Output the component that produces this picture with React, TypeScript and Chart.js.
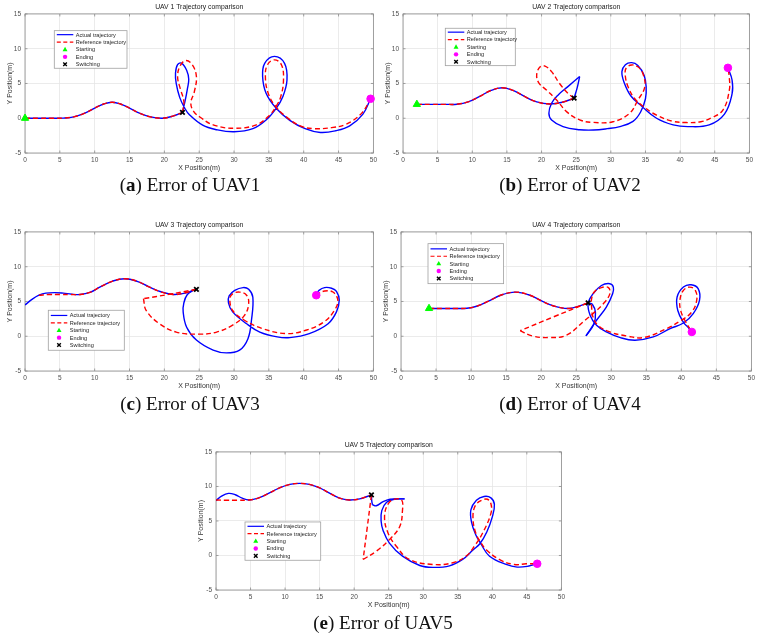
import React, { useEffect, useRef } from "react";
import { Chart, registerables } from "chart.js";

Chart.register(...registerables);

type Pt = [number, number];

// ---- shared axis ticks and legend text ----
const xTickValues = [0, 5, 10, 15, 20, 25, 30, 35, 40, 45, 50];
const yTickValues = [-5, 0, 5, 10, 15];
const legendLabels = ["Actual trajectory", "Reference trajectory", "Starting", "Ending", "Switching"];

// ---- UAV 1 ----
const uav1Lead: Pt[] = [[0, 0], [2, 0], [4, 0], [5.5, 0.02], [7, 0.2], [8.5, 0.7], [10, 1.45], [11.3, 2.05], [12.5, 2.3], [13.7, 2.05], [15, 1.45], [16.5, 0.7], [18, 0.2], [19.7, 0], [21.2, 0.3], [22.6, 0.85]];
const uav1ActualLoop: Pt[] = [[22.6, 0.85], [23.0, 2.6], [23.3, 4.2], [23.5, 5.6], [23.2, 6.9], [22.5, 7.9], [21.9, 7.7], [21.6, 6.5], [21.7, 5.0], [22.2, 3.0], [22.9, 1.5], [23.6, 0.5], [25.5, -1.0], [27.5, -1.65], [30, -1.95], [32.7, -1.5], [34.6, -0.25], [36.05, 1.43], [37.0, 3.1], [37.6, 5.5], [37.25, 7.9], [35.8, 8.9], [34.4, 7.9], [34.1, 6.0], [34.6, 3.6], [36.05, 1.43], [38.0, -0.3], [40.2, -1.5], [42.4, -2.05], [44.6, -1.8], [46.6, -1.1], [48.5, 0.6], [49.6, 2.8]];
const uav1RefLoop: Pt[] = [[22.6, 0.85], [22.8, 2.4], [22.3, 4.2], [21.9, 6.0], [22.3, 7.6], [23.1, 8.3], [24.0, 7.7], [24.6, 6.0], [24.3, 3.8], [23.8, 2.2], [24.2, 1.0], [25.2, 0.1], [27, -0.95], [30, -1.45], [33.2, -0.95], [35.1, 0.45], [36, 1.65], [36.7, 3.1], [37.1, 5.5], [36.8, 7.7], [35.8, 8.4], [34.8, 7.7], [34.5, 6.0], [34.9, 3.6], [36, 1.65], [37.5, 0.2], [39.5, -1.1], [41.5, -1.5], [44, -1.35], [46.1, -0.85], [48.3, 0.7], [49.6, 2.8]];
const uav1Start: Pt = [0, 0];
const uav1End: Pt = [49.6, 2.8];
const uav1Switch: Pt = [22.6, 0.85];

// ---- UAV 2 ----
const uav2Lead: Pt[] = [[2, 2], [4, 2], [6, 2], [7.8, 2.02], [9.4, 2.35], [11, 3.1], [12.7, 4.0], [14.3, 4.38], [15.9, 4.0], [17.6, 3.1], [19.3, 2.35], [21.2, 2.05], [23, 2.3], [24.7, 2.9]];
const uav2ActualRise: Pt[] = [[24.7, 2.9], [25.15, 4.4], [25.5, 6.0]];
const uav2ActualLoop: Pt[] = [[25.5, 6.0], [23.8, 4.55], [22.4, 3.35], [21.45, 2.16], [21.06, 0.72], [21.45, -0.24], [23.1, -1.2], [25.5, -1.65], [27.5, -1.7], [29.5, -1.5], [31.3, -1.2], [33.2, -0.45], [34.3, 0.9], [35.0, 2.8], [35.1, 4.5], [34.8, 6.2], [33.9, 7.6], [33.0, 8.0], [32.1, 7.7], [31.6, 6.7], [31.9, 5.2], [32.9, 3.2], [34.5, 1.7], [36.6, 0], [39, -0.95], [41.1, -1.2], [44.2, -0.95], [46.4, 0.6], [47.5, 3.5], [47.5, 5.5], [46.9, 7.25]];
const uav2RefLoop: Pt[] = [[24.7, 2.9], [23.8, 3.6], [22.6, 5.0], [21.45, 6.7], [20.5, 7.5], [19.8, 7.4], [19.3, 6.3], [19.6, 5.1], [20.7, 4.07], [22.2, 2.6], [23.6, 0.95], [25.5, -0.24], [27.5, -0.6], [30.3, -0.5], [32.7, 0.7], [33.9, 2.6], [34.9, 4.5], [34.6, 6.5], [33.9, 7.4], [33, 7.66], [32.2, 7.2], [32.1, 6.0], [32.5, 4.5], [33.4, 2.87], [34.6, 1.77], [36.6, 0.45], [38.8, -0.4], [40.9, -0.62], [43, -0.5], [44.6, 0.1], [46.2, 1.2], [47.1, 4.0], [47.1, 5.9], [46.9, 7.25]];
const uav2Start: Pt = [2, 2];
const uav2End: Pt = [46.9, 7.25];
const uav2Switch: Pt = [24.7, 2.9];

// ---- UAV 3 ----
const uav3ActualLead: Pt[] = [[0, 4.5], [1, 5.3], [2, 5.9], [3, 6.2], [4.3, 6.28], [5.5, 6.2], [6.7, 6.05], [7.9, 6.0], [9.3, 6.3], [10.8, 7.1], [12.5, 7.9], [14.3, 8.28], [16.1, 7.9], [17.8, 7.1], [19.5, 6.4], [21.3, 6.0], [23.0, 6.2], [24.3, 6.7]];
const uav3ActualLoop: Pt[] = [[24.3, 6.7], [23.3, 6.0], [22.8, 4.8], [22.7, 3.5], [23.2, 1.3], [24.6, -0.55], [27, -2.0], [28.9, -2.4], [30.8, -2.0], [32, -0.35], [32.5, 2.3], [32.7, 5.6], [32.1, 6.75], [31.3, 7.0], [30.1, 6.6], [29.3, 5.8], [29.2, 4.8], [29.8, 3.5], [31.8, 1.8], [33.7, 0.6], [36.2, -0.1], [38, -0.2], [40.8, 0.38], [43.5, 1.8], [44.7, 3.5], [45.1, 5.2], [44.7, 6.45], [44.0, 6.9], [43, 7.0], [42.2, 6.6], [41.8, 6.0]];
const uav3RefLead: Pt[] = [[2, 5.9], [3.5, 6.0], [5, 6.0], [6.5, 6.0], [7.9, 6.0], [9.3, 6.3], [10.8, 7.1], [12.5, 7.9], [14.3, 8.28], [16.1, 7.9], [17.8, 7.1], [19.5, 6.4], [21.3, 6.0], [23.0, 6.25], [24.6, 6.75]];
const uav3RefJump: Pt[] = [[24.6, 6.75], [20.8, 6.05], [17, 5.4]];
const uav3RefLoop: Pt[] = [[17, 5.4], [17.4, 3.7], [19.3, 1.8], [21.7, 0.6], [25.1, 0.3], [27.5, 0.6], [29.8, 1.6], [31.5, 3.0], [32.1, 4.7], [31.8, 5.9], [30.8, 6.35], [29.8, 6.1], [29.4, 5.4], [29.8, 3.7], [31.5, 2.3], [34.1, 1.1], [37.5, 0.38], [40.3, 0.86], [42.9, 2.06], [44.4, 3.7], [44.9, 5.17], [44.2, 6.36], [43, 6.5], [42, 6.1]];
const uav3End: Pt = [41.8, 5.9];
const uav3Switch: Pt = [24.6, 6.75];

// ---- UAV 4 ----
const uav4Lead: Pt[] = [[4, 4], [6, 4], [8, 4], [9.4, 4.02], [10.9, 4.35], [12.4, 5.0], [14.2, 5.9], [16.3, 6.35], [18.4, 5.9], [20.2, 5.0], [21.8, 4.35], [23.8, 4.0], [25.3, 4.3], [26.7, 4.8]];
const uav4ActualHook: Pt[] = [[26.7, 4.8], [27.3, 4.6], [27.75, 3.4], [27.5, 1.7], [26.4, 0.05]];
const uav4ActualLoop: Pt[] = [[26.4, 0.05], [27.9, 2.3], [29.3, 4.2], [30.2, 6.1], [30.3, 7.07], [29.8, 7.56], [28.6, 7.3], [27.4, 6.1], [26.7, 4.7], [27.0, 3.0], [27.9, 1.58], [29.3, 0.62], [31.3, -0.2], [33.4, -0.57], [36, -0.1], [38.4, 1.1], [40.3, 1.9], [41.7, 3.25], [42.6, 5.2], [42.4, 6.84], [41.4, 7.4], [40.3, 7.07], [39.4, 5.64], [39.5, 3.7], [40.3, 2.0], [41.0, 1.25], [41.5, 0.62]];
const uav4RefJump: Pt[] = [[26.7, 4.8], [21.8, 2.8], [17, 0.8]];
const uav4RefLoop: Pt[] = [[17, 0.8], [18.7, 0.05], [21.0, -0.19], [23.6, 0.14], [26.25, 2.3], [27.4, 3.25], [28.9, 4.7], [29.8, 6.1], [29.6, 7.0], [28.6, 7.0], [27.6, 6.4], [27.2, 5.4], [27.2, 4.2], [27.4, 2.77], [28.1, 1.58], [29.8, 0.62], [32.2, 0.04], [34.6, -0.19], [37.9, 1.1], [40, 2.3], [41.5, 3.5], [42.2, 5.2], [42, 6.6], [41.2, 7.07], [40.3, 6.6], [39.8, 5.2], [39.9, 3.73], [40.5, 2.3], [41.5, 0.62]];
const uav4Start: Pt = [4, 4];
const uav4End: Pt = [41.5, 0.62];
const uav4Switch: Pt = [26.7, 4.8];

// ---- UAV 5 ----
const uav5ActualLead: Pt[] = [[0, 7.95], [0.8, 8.6], [1.8, 9.0], [2.8, 8.8], [3.8, 8.3], [4.8, 8.05], [6.1, 8.3], [7.6, 9.0], [9.2, 9.8], [10.7, 10.3], [12.1, 10.45], [13.5, 10.3], [15.0, 9.8], [16.5, 9.0], [17.9, 8.3], [19.3, 8.05], [20.8, 8.2], [22.5, 8.77]];
const uav5ActualDrop: Pt[] = [[22.5, 8.77], [22.55, 7.9], [22.65, 7.35]];
const uav5ActualStep: Pt[] = [[22.65, 7.35], [23.2, 7.2], [24.2, 7.8], [25.2, 8.15], [26.3, 8.2], [27.3, 8.2]];
const uav5ActualLoop: Pt[] = [[27.3, 8.2], [25.8, 8.15], [24.7, 7.7], [24.0, 6.5], [23.9, 5.0], [24.2, 3.6], [25.1, 1.8], [27, -0.1], [29.5, -1.45], [31.4, -1.72], [33.8, -1.5], [35.7, -0.57], [37.2, 0.8], [38.2, 1.7], [39.2, 3.4], [40, 5.6], [40.3, 7.4], [39.8, 8.35], [38.8, 8.55], [37.7, 8.0], [36.9, 6.6], [37.0, 4.8], [37.6, 3.0], [38.4, 1.6], [39.6, -0.1], [42, -1.3], [43.6, -1.68], [45.3, -1.53], [46.5, -1.2]];
const uav5RefLead: Pt[] = [[0, 8.05], [1.5, 8.0], [3, 8.0], [4.8, 8.05], [6.1, 8.3], [7.6, 9.0], [9.2, 9.8], [10.7, 10.3], [12.1, 10.45], [13.5, 10.3], [15.0, 9.8], [16.5, 9.0], [17.9, 8.3], [19.3, 8.05], [20.8, 8.2], [22.5, 8.77]];
const uav5RefJump: Pt[] = [[22.5, 8.77], [21.9, 4.1], [21.3, -0.57]];
const uav5RefLoop: Pt[] = [[21.3, -0.57], [23.2, 0.62], [25.1, 2.3], [26.6, 4.2], [27.0, 6.6], [26.9, 8.0], [26.1, 8.2], [25.0, 7.6], [24.4, 5.65], [24.9, 3.26], [26.1, 1.34], [28, -0.57], [31.4, -1.3], [34.3, -1.05], [36.2, -0.1], [37.4, 1.34], [38.6, 3.26], [39.8, 6.1], [39.8, 7.5], [39.3, 8.15], [38.6, 8.05], [37.6, 7.33], [37.2, 5.65], [37.6, 3.26], [38.4, 1.8], [39.1, 0.86], [41, -0.57], [43.2, -1.3], [44.9, -1.2], [46.5, -1.2]];
const uav5End: Pt = [46.5, -1.2];
const uav5Switch: Pt = [22.5, 8.77];

// ---- styles ----
const SANS = "'Liberation Sans', Arial, Helvetica, sans-serif";
const SERIF = "'Liberation Serif', 'Times New Roman', serif";
const ACTUAL_COLOR = "#0000ff";
const REF_COLOR = "#ff0000";
const START_COLOR = "#00ff00";
const END_COLOR = "#ff00ff";
const AXIS_W = 25;
const RIGHT_PAD = 6;
const TITLE_H = 14;
const XAXIS_H = 22;

type Box = { x: number; y: number; w: number; h: number };
type PanelSpec = {
  title: string;
  plot: { left: number; top: number; right: number; bottom: number };
  actual: Pt[][];
  reference: Pt[][];
  start: Pt | null;
  end: Pt;
  switching: Pt;
  legend: Box;
};

const panels: PanelSpec[] = [
  {
    title: "UAV 1 Trajectory comparison",
    plot: { left: 25, top: 14, right: 374, bottom: 153 },
    actual: [uav1Lead, uav1ActualLoop],
    reference: [uav1Lead, uav1RefLoop],
    start: uav1Start, end: uav1End, switching: uav1Switch,
    legend: { x: 29.3, y: 16.7, w: 72.7, h: 37.6 },
  },
  {
    title: "UAV 2 Trajectory comparison",
    plot: { left: 402.7, top: 14, right: 750, bottom: 153.3 },
    actual: [uav2Lead, uav2ActualRise, uav2ActualLoop],
    reference: [uav2Lead, uav2RefLoop],
    start: uav2Start, end: uav2End, switching: uav2Switch,
    legend: { x: 42.3, y: 14.3, w: 70, h: 37.4 },
  },
  {
    title: "UAV 3 Trajectory comparison",
    plot: { left: 25, top: 231.7, right: 374, bottom: 371 },
    actual: [uav3ActualLead, uav3ActualLoop],
    reference: [uav3RefLead, uav3RefJump, uav3RefLoop],
    start: null, end: uav3End, switching: uav3Switch,
    legend: { x: 23.3, y: 78.3, w: 76, h: 40 },
  },
  {
    title: "UAV 4 Trajectory comparison",
    plot: { left: 400.7, top: 231.6, right: 751.7, bottom: 371 },
    actual: [uav4Lead, uav4ActualHook, uav4ActualLoop],
    reference: [uav4Lead, uav4RefJump, uav4RefLoop],
    start: uav4Start, end: uav4End, switching: uav4Switch,
    legend: { x: 27, y: 11.7, w: 75.6, h: 40 },
  },
  {
    title: "UAV 5 Trajectory comparison",
    plot: { left: 216, top: 451.7, right: 562, bottom: 590 },
    actual: [uav5ActualLead, uav5ActualDrop, uav5ActualStep, uav5ActualLoop],
    reference: [uav5RefLead, uav5RefJump, uav5RefLoop],
    start: null, end: uav5End, switching: uav5Switch,
    legend: { x: 29, y: 70, w: 75.7, h: 38.3 },
  },
];

const captions = [
  { letter: "a", text: " Error of UAV1", cx: 190, cy: 185 },
  { letter: "b", text: " Error of UAV2", cx: 570, cy: 185 },
  { letter: "c", text: " Error of UAV3", cx: 190, cy: 404 },
  { letter: "d", text: " Error of UAV4", cx: 570, cy: 404 },
  { letter: "e", text: " Error of UAV5", cx: 383, cy: 623 },
];

// plot frame with inward tick marks on all four sides
const framePlugin = {
  id: "frame",
  beforeDatasetsDraw(chart: any) {
    const { ctx, chartArea: a, scales } = chart;
    ctx.save();
    ctx.strokeStyle = "#8c8c8c";
    ctx.lineWidth = 0.8;
    ctx.strokeRect(a.left, a.top, a.right - a.left, a.bottom - a.top);
    const t = 2.5;
    ctx.beginPath();
    for (const v of xTickValues) {
      const px = scales.x.getPixelForValue(v);
      ctx.moveTo(px, a.bottom); ctx.lineTo(px, a.bottom - t);
      ctx.moveTo(px, a.top); ctx.lineTo(px, a.top + t);
    }
    for (const v of yTickValues) {
      const py = scales.y.getPixelForValue(v);
      ctx.moveTo(a.left, py); ctx.lineTo(a.left + t, py);
      ctx.moveTo(a.right, py); ctx.lineTo(a.right - t, py);
    }
    ctx.stroke();
    ctx.restore();
  },
};

function drawTriangle(ctx: CanvasRenderingContext2D, x: number, y: number, r: number) {
  ctx.beginPath();
  ctx.moveTo(x, y - r);
  ctx.lineTo(x + r * 0.95, y + r * 0.65);
  ctx.lineTo(x - r * 0.95, y + r * 0.65);
  ctx.closePath();
  ctx.fill();
}

function makeLegendPlugin(box: Box) {
  return {
    id: "trajLegend",
    afterDatasetsDraw(chart: any) {
      const { ctx, chartArea } = chart;
      const x0 = chartArea.left + box.x;
      const y0 = chartArea.top + box.y;
      ctx.save();
      ctx.fillStyle = "#ffffff";
      ctx.fillRect(x0, y0, box.w, box.h);
      ctx.strokeStyle = "#a0a0a0";
      ctx.lineWidth = 0.8;
      ctx.strokeRect(x0, y0, box.w, box.h);
      const step = 7.4;
      const first = (box.h - 4 * step) / 2;
      const sx0 = x0 + 2.5;
      const sx1 = x0 + 19;
      const mx = (sx0 + sx1) / 2;
      legendLabels.forEach((label, i) => {
        const cy = y0 + first + i * step;
        if (i === 0 || i === 1) {
          ctx.strokeStyle = i === 0 ? ACTUAL_COLOR : REF_COLOR;
          ctx.lineWidth = 1.2;
          ctx.setLineDash(i === 0 ? [] : [4, 2.5]);
          ctx.beginPath();
          ctx.moveTo(sx0, cy);
          ctx.lineTo(sx1, cy);
          ctx.stroke();
          ctx.setLineDash([]);
        } else if (i === 2) {
          ctx.fillStyle = START_COLOR;
          drawTriangle(ctx, mx, cy, 2.6);
        } else if (i === 3) {
          ctx.fillStyle = END_COLOR;
          ctx.beginPath();
          ctx.arc(mx, cy, 2.2, 0, Math.PI * 2);
          ctx.fill();
        } else {
          ctx.strokeStyle = "#000";
          ctx.lineWidth = 1.4;
          ctx.beginPath();
          ctx.moveTo(mx - 1.8, cy - 1.8); ctx.lineTo(mx + 1.8, cy + 1.8);
          ctx.moveTo(mx + 1.8, cy - 1.8); ctx.lineTo(mx - 1.8, cy + 1.8);
          ctx.stroke();
        }
        ctx.fillStyle = "#262626";
        ctx.font = `5.6px ${SANS}`;
        ctx.textBaseline = "middle";
        ctx.textAlign = "left";
        ctx.fillText(label, x0 + 21.5, cy + 0.3);
      });
      ctx.restore();
    },
  };
}

const toXY = (pts: Pt[]) => pts.map(([x, y]) => ({ x, y }));

function buildDatasets(spec: PanelSpec) {
  const ds: any[] = [];
  spec.actual.forEach((piece) => {
    ds.push({
      data: toXY(piece), showLine: true, borderColor: ACTUAL_COLOR, borderWidth: 1.4,
      pointRadius: 0, tension: 0.4, fill: false, order: 2,
    });
  });
  spec.reference.forEach((piece) => {
    ds.push({
      data: toXY(piece), showLine: true, borderColor: REF_COLOR, borderWidth: 1.4, borderDash: [5, 3],
      pointRadius: 0, tension: 0.4, fill: false, order: 1,
    });
  });
  if (spec.start) {
    ds.push({
      data: toXY([spec.start]), showLine: false, pointStyle: "triangle", pointRadius: 4.2,
      backgroundColor: START_COLOR, borderColor: START_COLOR, borderWidth: 1, clip: false, order: 0,
    });
  }
  ds.push({
    data: toXY([spec.end]), showLine: false, pointStyle: "circle", pointRadius: 3.8,
    backgroundColor: END_COLOR, borderColor: END_COLOR, borderWidth: 1, clip: false, order: 0,
  });
  ds.push({
    data: toXY([spec.switching]), showLine: false, pointStyle: "crossRot", pointRadius: 3.2,
    backgroundColor: "#000", borderColor: "#000", borderWidth: 1.8, clip: false, order: 0,
  });
  return ds;
}

function Panel({ spec }: { spec: PanelSpec }) {
  const ref = useRef<HTMLCanvasElement>(null);
  const { plot } = spec;
  const canvasLeft = Math.round(plot.left - AXIS_W);
  const canvasTop = Math.round(plot.top - TITLE_H);
  const width = Math.round(plot.right - plot.left) + AXIS_W + RIGHT_PAD;
  const height = Math.round(plot.bottom - plot.top) + TITLE_H + XAXIS_H;

  useEffect(() => {
    if (!ref.current) return;
    const tickFont = { family: SANS, size: 6.5 };
    const chart = new Chart(ref.current, {
      type: "scatter",
      data: { datasets: buildDatasets(spec) },
      options: {
        animation: false,
        responsive: false,
        events: [],
        layout: { padding: { left: 0, right: RIGHT_PAD, top: 0, bottom: 0 } },
        plugins: {
          legend: { display: false },
          tooltip: { enabled: false },
          title: {
            display: true,
            text: spec.title,
            fullSize: false,
            color: "#1a1a1a",
            font: { family: SANS, size: 6.8, weight: "normal", lineHeight: 1.2 },
            padding: { top: 3.3, bottom: 2.5 },
          },
        },
        scales: {
          x: {
            type: "linear",
            min: 0,
            max: 50,
            grid: { color: "#e6e6e6", lineWidth: 0.8, drawTicks: false },
            border: { display: false },
            ticks: { padding: 3, color: "#4d4d4d", font: tickFont, maxRotation: 0, autoSkip: false },
            title: {
              display: true, text: "X Position(m)", color: "#333",
              font: { family: SANS, size: 7, lineHeight: 1.2 }, padding: { top: 0, bottom: 2.8 },
            },
            afterBuildTicks: (s: any) => { s.ticks = xTickValues.map((value) => ({ value })); },
            afterFit: (s: any) => { s.height = XAXIS_H; },
          },
          y: {
            type: "linear",
            min: -5,
            max: 15,
            grid: { color: "#e6e6e6", lineWidth: 0.8, drawTicks: false },
            border: { display: false },
            ticks: { padding: 4, color: "#4d4d4d", font: tickFont, autoSkip: false },
            title: {
              display: true, text: "Y Position(m)", color: "#333",
              font: { family: SANS, size: 7, lineHeight: 1.2 }, padding: { top: 5.8, bottom: 0 },
            },
            afterBuildTicks: (s: any) => { s.ticks = yTickValues.map((value) => ({ value })); },
            afterFit: (s: any) => { s.width = AXIS_W; },
          },
        },
      } as any,
      plugins: [framePlugin, makeLegendPlugin(spec.legend)],
    });
    return () => chart.destroy();
  }, [spec]);

  return (
    <canvas
      ref={ref}
      width={width}
      height={height}
      style={{ position: "absolute", left: canvasLeft, top: canvasTop, width, height }}
    />
  );
}

export default function App() {
  return (
    <div
      style={{
        position: "absolute", left: 0, top: 0, width: 761, height: 640,
        background: "#ffffff", overflow: "hidden",
      }}
    >
      {panels.map((p) => (
        <Panel key={p.title} spec={p} />
      ))}
      {captions.map((c) => (
        <div
          key={c.letter}
          style={{
            position: "absolute", left: c.cx - 150, top: c.cy - 12, width: 300, height: 24,
            lineHeight: "24px", textAlign: "center", fontFamily: SERIF, fontSize: 19, color: "#111",
            whiteSpace: "nowrap",
          }}
        >
          (<b>{c.letter}</b>){c.text}
        </div>
      ))}
    </div>
  );
}
